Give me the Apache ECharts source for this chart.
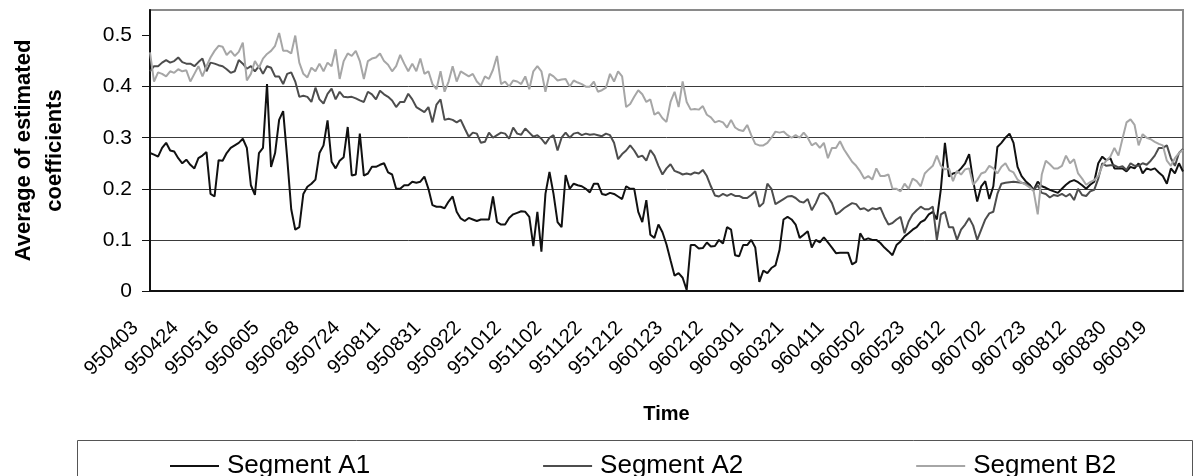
<!DOCTYPE html>
<html>
<head>
<meta charset="utf-8">
<style>
html,body{margin:0;padding:0;background:#fff;}
#chart{width:1199px;height:476px;}
</style>
<script src="https://cdn.jsdelivr.net/npm/echarts@6/dist/echarts.min.js"></script>
</head>
<body>
<div id="chart"></div>
<script>
// Tick labels shown on the time axis (one every LABEL_STEP observations)
const tickLabels = ['950403','950424','950516','950605','950628','950724','950811','950831','950922','951012','951102','951122','951212','960123','960212','960301','960321','960411','960502','960523','960612','960702','960723','960812','960830','960919'];
const LABEL_STEP = 10;
const yTicks = [0, 0.1, 0.2, 0.3, 0.4, 0.5];

const segmentA1 = [
0.27,0.267,0.263,0.28,0.29,0.275,0.273,0.26,0.25,0.257,
0.247,0.24,0.26,0.265,0.272,0.19,0.185,0.256,0.255,0.27,
0.28,0.285,0.29,0.298,0.28,0.207,0.188,0.27,0.28,0.405,
0.243,0.27,0.335,0.352,0.26,0.16,0.12,0.125,0.19,0.204,
0.21,0.218,0.27,0.285,0.334,0.253,0.24,0.255,0.262,0.321,
0.226,0.228,0.308,0.226,0.23,0.243,0.243,0.247,0.25,0.232,
0.228,0.2,0.2,0.207,0.207,0.214,0.212,0.214,0.224,0.2,
0.168,0.165,0.165,0.162,0.175,0.185,0.155,0.142,0.137,0.143,
0.14,0.137,0.14,0.14,0.14,0.185,0.135,0.13,0.13,0.143,
0.15,0.153,0.156,0.155,0.145,0.088,0.155,0.077,0.19,0.233,
0.19,0.135,0.125,0.227,0.2,0.21,0.207,0.205,0.2,0.193,
0.21,0.21,0.19,0.188,0.192,0.19,0.185,0.18,0.205,0.2,
0.2,0.155,0.135,0.178,0.11,0.104,0.13,0.115,0.091,0.06,
0.03,0.035,0.026,0.002,0.09,0.09,0.083,0.084,0.095,0.087,
0.088,0.1,0.093,0.125,0.12,0.07,0.068,0.09,0.09,0.1,
0.085,0.018,0.04,0.035,0.045,0.05,0.08,0.14,0.145,0.14,
0.13,0.104,0.11,0.117,0.085,0.1,0.095,0.105,0.095,0.085,
0.074,0.075,0.075,0.075,0.052,0.057,0.113,0.1,0.103,0.1,
0.1,0.094,0.085,0.078,0.07,0.09,0.097,0.107,0.113,0.12,
0.125,0.135,0.139,0.15,0.155,0.14,0.2,0.29,0.224,0.23,
0.232,0.24,0.25,0.268,0.215,0.175,0.205,0.215,0.18,0.205,
0.282,0.29,0.3,0.308,0.29,0.243,0.225,0.215,0.208,0.198,
0.214,0.205,0.202,0.198,0.195,0.192,0.2,0.208,0.214,0.217,
0.213,0.207,0.2,0.208,0.214,0.25,0.263,0.256,0.26,0.24,
0.24,0.24,0.234,0.243,0.24,0.25,0.23,0.24,0.237,0.24,
0.232,0.225,0.21,0.24,0.23,0.25,0.234
];

const segmentA2 = [
0.43,0.44,0.44,0.447,0.452,0.447,0.45,0.457,0.448,0.445,
0.445,0.44,0.448,0.455,0.43,0.447,0.445,0.442,0.44,0.434,
0.427,0.43,0.452,0.445,0.435,0.44,0.43,0.44,0.425,0.44,
0.437,0.42,0.42,0.405,0.425,0.428,0.41,0.38,0.382,0.38,
0.37,0.398,0.375,0.367,0.386,0.396,0.375,0.39,0.38,0.379,
0.38,0.377,0.373,0.37,0.39,0.385,0.375,0.392,0.385,0.38,
0.373,0.36,0.37,0.37,0.386,0.375,0.36,0.355,0.35,0.36,
0.33,0.365,0.375,0.335,0.337,0.335,0.33,0.335,0.318,0.302,
0.31,0.308,0.29,0.292,0.31,0.3,0.305,0.31,0.308,0.298,
0.32,0.308,0.306,0.318,0.31,0.302,0.305,0.298,0.288,0.3,
0.305,0.275,0.3,0.31,0.3,0.308,0.31,0.305,0.308,0.306,
0.307,0.305,0.303,0.308,0.305,0.29,0.258,0.268,0.275,0.285,
0.275,0.262,0.265,0.255,0.276,0.265,0.245,0.228,0.24,0.248,
0.235,0.232,0.228,0.23,0.228,0.232,0.23,0.237,0.225,0.205,
0.187,0.185,0.19,0.186,0.19,0.186,0.186,0.182,0.182,0.188,
0.195,0.165,0.172,0.21,0.2,0.17,0.175,0.18,0.185,0.186,
0.182,0.175,0.173,0.18,0.158,0.172,0.19,0.192,0.185,0.172,
0.15,0.155,0.162,0.167,0.172,0.17,0.16,0.162,0.157,0.162,
0.16,0.163,0.145,0.13,0.133,0.14,0.145,0.113,0.136,0.15,
0.158,0.165,0.16,0.16,0.165,0.1,0.15,0.155,0.125,0.125,
0.1,0.12,0.13,0.143,0.128,0.1,0.12,0.14,0.152,0.155,
0.19,0.21,0.212,0.213,0.214,0.213,0.212,0.21,0.204,0.198,
0.207,0.192,0.19,0.183,0.188,0.186,0.19,0.185,0.19,0.178,
0.2,0.188,0.186,0.195,0.198,0.22,0.25,0.245,0.246,0.246,
0.242,0.244,0.237,0.25,0.245,0.245,0.25,0.247,0.255,0.265,
0.28,0.28,0.285,0.26,0.245,0.27,0.278
];

const segmentB2 = [
0.467,0.41,0.428,0.425,0.42,0.43,0.427,0.434,0.43,0.432,
0.41,0.425,0.44,0.42,0.44,0.457,0.47,0.48,0.478,0.462,
0.47,0.46,0.468,0.486,0.412,0.425,0.45,0.437,0.455,0.464,
0.47,0.48,0.505,0.47,0.47,0.465,0.5,0.447,0.425,0.418,
0.437,0.43,0.445,0.43,0.447,0.44,0.473,0.415,0.45,0.465,
0.46,0.47,0.45,0.415,0.45,0.455,0.457,0.465,0.45,0.443,
0.43,0.44,0.462,0.445,0.43,0.445,0.43,0.455,0.425,0.43,
0.405,0.395,0.43,0.39,0.41,0.44,0.41,0.43,0.425,0.42,
0.425,0.41,0.402,0.42,0.415,0.433,0.46,0.405,0.41,0.4,
0.412,0.41,0.405,0.42,0.395,0.43,0.44,0.43,0.39,0.425,
0.42,0.412,0.414,0.415,0.4,0.412,0.408,0.405,0.4,0.4,
0.41,0.39,0.393,0.398,0.425,0.41,0.43,0.42,0.36,0.366,
0.38,0.393,0.385,0.37,0.375,0.345,0.35,0.338,0.331,0.37,
0.39,0.36,0.41,0.37,0.355,0.356,0.355,0.362,0.345,0.34,
0.33,0.333,0.33,0.32,0.335,0.32,0.315,0.313,0.325,0.305,
0.288,0.285,0.285,0.29,0.3,0.312,0.31,0.312,0.305,0.3,
0.305,0.3,0.31,0.3,0.285,0.29,0.28,0.29,0.26,0.28,
0.28,0.293,0.277,0.265,0.253,0.245,0.234,0.22,0.225,0.218,
0.24,0.225,0.225,0.228,0.2,0.2,0.195,0.21,0.2,0.22,
0.215,0.205,0.23,0.238,0.245,0.265,0.245,0.238,0.24,0.215,
0.235,0.228,0.238,0.24,0.208,0.217,0.23,0.233,0.245,0.24,
0.23,0.243,0.25,0.236,0.232,0.218,0.212,0.208,0.203,0.195,
0.15,0.228,0.255,0.248,0.24,0.24,0.245,0.265,0.25,0.258,
0.23,0.22,0.208,0.213,0.217,0.225,0.245,0.255,0.263,0.28,
0.265,0.298,0.33,0.336,0.325,0.285,0.307,0.3,0.297,0.292,
0.288,0.285,0.255,0.245,0.26,0.27,0.276
];

const seriesNames = ['Segment A1', 'Segment A2', 'Segment B2'];
const seriesColors = ['#111111', '#4d4d4d', '#a6a6a6'];
const seriesValues = [segmentA1, segmentA2, segmentB2];

// category index for each observation; labels come from tickLabels
const categories = segmentA1.map((_, i) => String(i));

const FONT = '"Liberation Sans", Arial, Helvetica, sans-serif';

const chart = echarts.init(document.getElementById('chart'), null, {renderer: 'canvas'});
chart.setOption({
  animation: false,
  backgroundColor: '#ffffff',
  textStyle: {fontFamily: FONT, color: '#000'},
  grid: {
    left: 143, top: 10, width: 1040, height: 281,
    show: true, borderColor: '#8a8a8a', borderWidth: 2, backgroundColor: 'transparent'
  },
  xAxis: {
    type: 'category',
    data: categories,
    boundaryGap: false,
    name: 'Time',
    nameLocation: 'middle',
    nameGap: 113,
    nameTextStyle: {fontFamily: FONT, fontSize: 20, fontWeight: 'bold', color: '#000'},
    axisLine: {show: true, lineStyle: {color: '#111', width: 2}},
    axisTick: {show: false},
    splitLine: {show: false},
    axisLabel: {
      interval: LABEL_STEP - 1,
      rotate: 45,
      margin: 19,
      padding: [0, 21, 0, 0],
      fontFamily: FONT,
      fontSize: 20,
      color: '#000',
      formatter: (v, idx) => (idx % LABEL_STEP === 0 ? (tickLabels[idx / LABEL_STEP] || '') : '')
    }
  },
  yAxis: {
    type: 'value',
    min: 0,
    max: 0.55,
    interval: 0.1,
    name: 'Average of estimated\ncoefficients',
    nameLocation: 'middle',
    nameRotate: 90,
    nameGap: 80,
    nameTextStyle: {fontFamily: FONT, fontSize: 22, fontWeight: 'bold', color: '#000', lineHeight: 31, align: 'center'},
    axisLine: {show: true, lineStyle: {color: '#111', width: 2}},
    axisTick: {show: true, length: 8, customValues: yTicks, lineStyle: {color: '#111', width: 1}},
    splitLine: {show: true, showMaxLine: false, lineStyle: {color: '#3a3a3a', width: 1}},
    axisLabel: {
      margin: 18,
      fontFamily: FONT,
      fontSize: 21,
      color: '#000',
      customValues: yTicks,
      formatter: (v) => (v === 0 ? '0' : String(Math.round(v * 10) / 10))
    }
  },
  legend: {
    data: seriesNames,
    left: 165,
    top: 447,
    icon: 'rect',
    itemWidth: 49,
    itemHeight: 2,
    itemGap: 173,
    textStyle: {fontFamily: FONT, fontSize: 26, color: '#000', padding: [0, 0, 0, 3], lineHeight: 28}
  },
  graphic: [{
    type: 'rect',
    left: 75,
    top: 438,
    shape: {width: 1115, height: 60},
    style: {fill: 'none', stroke: '#555', lineWidth: 1},
    silent: true
  }],
  series: seriesNames.map((name, k) => ({
    name: name,
    type: 'line',
    data: seriesValues[k],
    symbol: 'none',
    color: seriesColors[k],
    lineStyle: {color: seriesColors[k], width: 2},
    emphasis: {disabled: true}
  }))
});
</script>
</body>
</html>
